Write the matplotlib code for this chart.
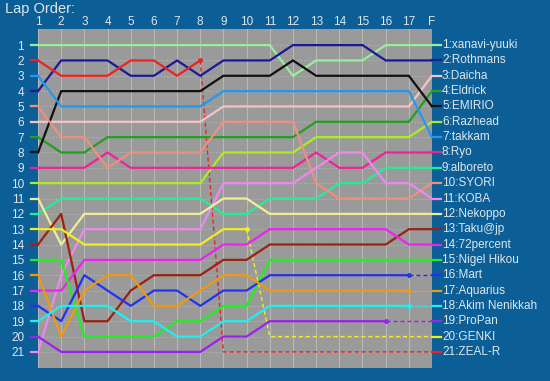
import matplotlib.pyplot as plt

# Lap chart data: position of each driver at each lap column (1..17, F)
lap_labels = [str(i) for i in range(1, 18)] + ["F"]

names = ["xanavi-yuuki", "Rothmans", "Daicha", "Eldrick", "EMIRIO", "Razhead",
         "takkam", "Ryo", "alboreto", "SYORI", "KOBA", "Nekoppo", "Taku@jp",
         "72percent", "Nigel Hikou", "Mart", "Aquarius", "Akim Nenikkah",
         "ProPan", "GENKI", "ZEAL-R"]

xanavi = [1, 1, 1, 1, 1, 1, 1, 1, 1, 1, 1, 3, 2, 2, 2, 1, 1, 1]
rothmans = [4, 2, 2, 2, 3, 3, 2, 3, 2, 2, 2, 1, 1, 1, 1, 2, 2, 2]
daicha = [6, 6, 6, 6, 6, 6, 6, 6, 5, 5, 5, 5, 5, 5, 5, 5, 5, 3]
eldrick = [7, 8, 8, 7, 7, 7, 7, 7, 7, 7, 7, 7, 6, 6, 6, 6, 6, 4]
emirio = [8, 4, 4, 4, 4, 4, 4, 4, 3, 3, 3, 2, 3, 3, 3, 3, 3, 5]
razhead = [10, 10, 10, 10, 10, 10, 10, 10, 8, 8, 8, 8, 7, 7, 7, 7, 7, 6]
takkam = [3, 5, 5, 5, 5, 5, 5, 5, 4, 4, 4, 4, 4, 4, 4, 4, 4, 7]
ryo = [9, 9, 9, 8, 9, 9, 9, 9, 9, 9, 9, 9, 8, 9, 9, 8, 8, 8]
alboreto = [12, 11, 11, 11, 11, 11, 11, 11, 12, 12, 11, 11, 11, 10, 10, 9, 9, 9]
syori = [5, 7, 7, 9, 8, 8, 8, 8, 6, 6, 6, 6, 10, 11, 11, 11, 11, 10]
koba = [21, 16, 13, 13, 13, 13, 13, 13, 10, 10, 10, 10, 9, 8, 8, 10, 10, 11]
nekoppo = [11, 14, 12, 12, 12, 12, 12, 12, 11, 11, 12, 12, 12, 12, 12, 12, 12, 12]
taku = [14, 12, 19, 19, 17, 16, 16, 16, 15, 15, 14, 14, 14, 14, 14, 14, 13, 13]
percent72 = [17, 17, 15, 15, 15, 15, 15, 15, 14, 14, 13, 13, 13, 13, 13, 13, 14, 14]
nigel = [15, 15, 20, 20, 20, 20, 19, 19, 18, 18, 15, 15, 15, 15, 15, 15, 15, 15]
# retired drivers: laps actually run
mart = [18, 19, 16, 17, 18, 17, 17, 18, 17, 17, 16, 16, 16, 16, 16, 16, 16]
aquarius = [16, 20, 17, 16, 16, 18, 18, 17, 16, 16, 17, 17, 17, 17, 17, 17, 17]
akim = [19, 18, 18, 18, 19, 19, 20, 20, 19, 19, 18, 18, 18, 18, 18, 18, 18]
propan = [20, 21, 21, 21, 21, 21, 21, 21, 20, 20, 19, 19, 19, 19, 19, 19]
genki = [13, 13, 14, 14, 14, 14, 14, 14, 13, 13]
zeal = [2, 3, 3, 3, 2, 2, 3, 2]

positions = [xanavi, rothmans, daicha, eldrick, emirio, razhead, takkam, ryo,
             alboreto, syori, koba, nekoppo, taku, percent72, nigel, mart,
             aquarius, akim, propan, genki, zeal]

colors = ["#99ee99", "#1a1a99", "#f4c4c4", "#22a022", "#111111", "#aaee22",
          "#2299ee", "#ee2299", "#22ee99", "#ee9080", "#ee88ee", "#eeee99",
          "#992211", "#ee22ee", "#22ee22", "#2233ee", "#ee9911", "#22eeee",
          "#9922ee", "#eeee22", "#ee2222"]

bg = "#0c5f96"
txt = "#dde6ee"

fig = plt.figure(figsize=(5.5, 3.81), dpi=100, facecolor=bg)
ax = fig.add_axes([0.0691, 0.0341, 0.7164, 0.8898])
ax.set_facecolor("#9a9a9a")
n = len(lap_labels) - 1

for i in range(n + 1):
    ax.axvline(i, color="#b8b8b8", lw=0.8, zorder=1)
for r in range(1, 22):
    ax.axhline(r, color="#bdbdbd", lw=0.7, ls=(0, (1, 2)), zorder=1)

for k, (pos, c) in enumerate(zip(positions, colors)):
    final = k + 1
    xs = list(range(len(pos)))
    # short stub before the first column
    ax.plot([-0.3, 0], [pos[0], pos[0]], color=c, lw=1.6, clip_on=False, zorder=3)
    ax.plot(xs, pos, color=c, lw=1.6, zorder=3, solid_joinstyle="round")
    if len(pos) < n + 1:
        last = len(pos) - 1
        ax.plot(last, pos[-1], "o", color=c, ms=2.5, zorder=4)
        ax.plot([last, last + 1, n], [pos[-1], final, final], color=c, lw=1,
                ls=(0, (3, 2)), zorder=2)
    # stub after the finish column
    ax.plot([n, n + 0.4], [final, final], color=c, lw=1.6, clip_on=False, zorder=3)
    ax.text(n + 0.43, final, f"{final}:{names[k]}", color=txt, fontsize=8.5,
            va="center", ha="left", family="Liberation Sans")

ax.set_xlim(0, n)
ax.set_ylim(22.05, -0.05)
ax.set_xticks(range(n + 1))
ax.set_xticklabels(lap_labels)
ax.xaxis.tick_top()
ax.set_yticks(range(1, 22))
ax.tick_params(length=0, colors=txt, labelsize=8.5)
ax.tick_params(axis="x", pad=1)
ax.tick_params(axis="y", pad=10)
for lab in ax.get_xticklabels() + ax.get_yticklabels():
    lab.set_family("Liberation Sans")
for s in ax.spines.values():
    s.set_visible(False)

fig.text(0.009, 0.995, "Lap Order:", color=txt, fontsize=10.5, va="top",
         family="Liberation Sans")

fig.savefig("out.png", dpi=100, facecolor=bg)
